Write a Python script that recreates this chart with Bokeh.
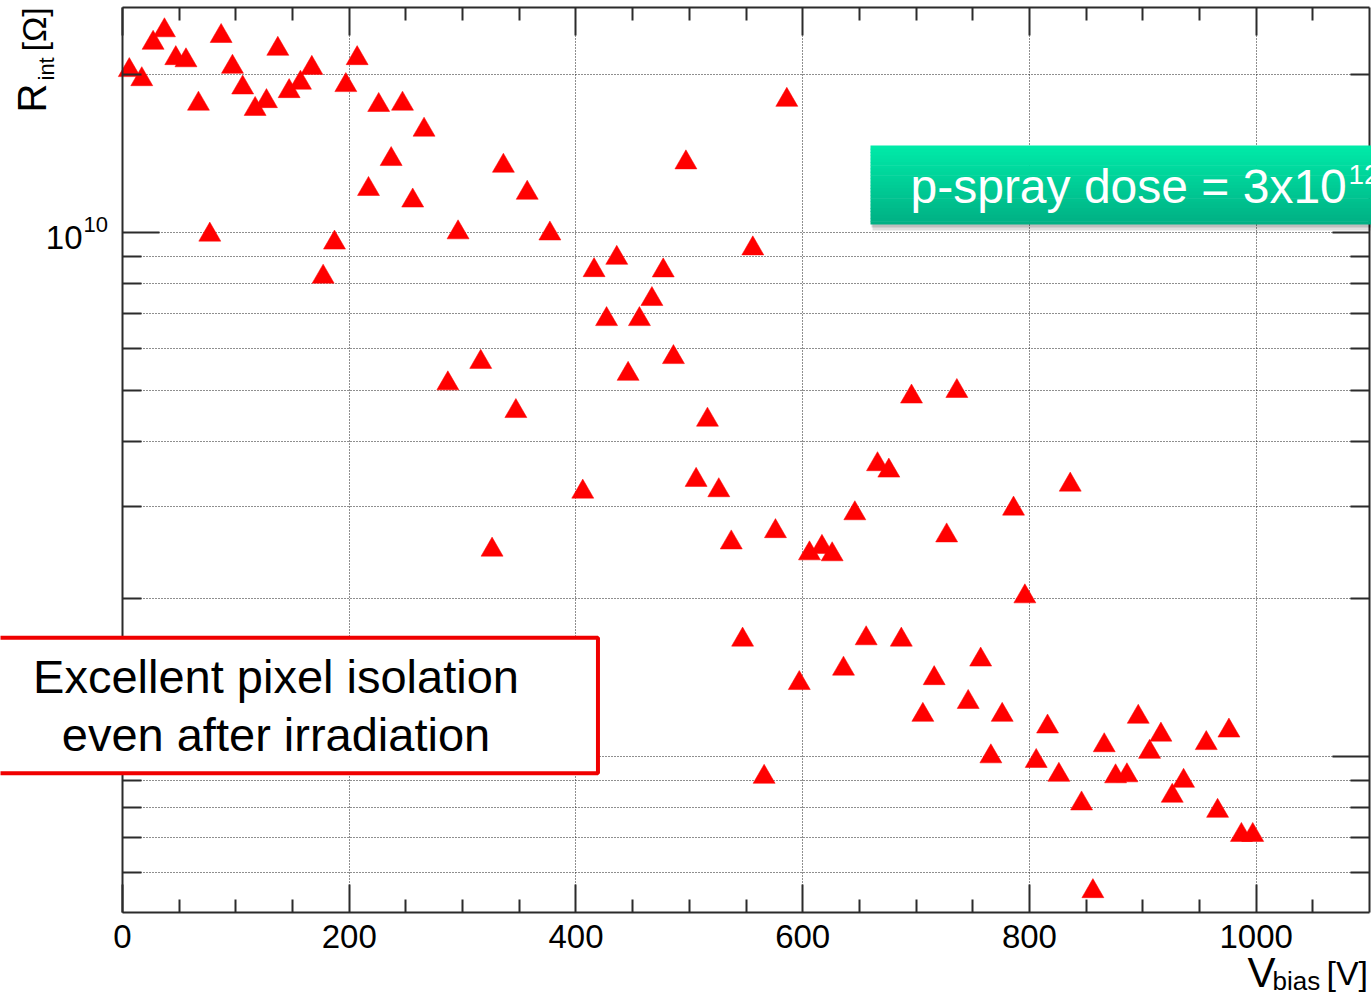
import math
from bokeh.plotting import figure
from bokeh.models import (ColumnDataSource, Range1d, FixedTicker, LinearAxis, LogAxis,
                          BasicTickFormatter, Label, BoxAnnotation, Grid)
from bokeh.embed import file_html
from bokeh.resources import INLINE

FONT = "Liberation Sans"

# ---------------- data ----------------
v_bias = [6, 17, 27, 37, 47, 56, 67, 77, 87, 97,
          106, 117, 127, 137, 147, 157, 167, 177, 187, 197,
          207, 217, 226, 237, 247, 256, 266, 287, 296, 316,
          326, 336, 347, 357, 377, 406, 416, 427, 436, 446,
          456, 467, 477, 486, 497, 506, 516, 526, 537, 547,
          556, 566, 576, 586, 597, 606, 617, 626, 636, 646,
          656, 666, 676, 687, 696, 706, 716, 727, 736, 746,
          757, 766, 776, 786, 796, 806, 816, 826, 836, 846,
          856, 866, 876, 886, 896, 906, 916, 926, 936, 956,
          966, 976, 987, 997]
# R_int in units of 1e9 Ohm
r_int_gohm = [20.4, 19.6, 23.0, 24.3, 21.5, 21.3, 17.6, 9.90, 23.7, 20.7,
              18.9, 17.2, 17.8, 22.4, 18.6, 19.3, 20.6, 8.23, 9.56, 19.1,
              21.5, 12.1, 17.5, 13.8, 17.6, 11.5, 15.7, 5.15, 10.0, 5.66,
              2.48, 13.4, 4.56, 11.9, 9.95, 3.20, 8.47, 6.83, 8.94, 5.37,
              6.83, 7.46, 8.46, 5.78, 13.6, 3.37, 4.39, 3.22, 2.56, 1.67,
              9.32, 0.914, 2.69, 17.9, 1.38, 2.44, 2.51, 2.43, 1.47, 2.91,
              1.68, 3.61, 3.51, 1.67, 4.86, 1.20, 1.41, 2.64, 4.98, 1.27,
              1.53, 1.00, 1.20, 2.97, 2.02, 0.980, 1.14, 0.922, 3.30, 0.813,
              0.553, 1.05, 0.916, 0.920, 1.19, 1.02, 1.10, 0.841, 0.898, 1.06,
              0.787, 1.12, 0.708, 0.708]

x_major_ticks = [0, 200, 400, 600, 800, 1000]
x_minor_ticks = [50, 100, 150, 250, 300, 350, 450, 500, 550, 650, 700, 750,
                 850, 900, 950, 1050]
y_major_ticks = [1e9, 1e10]
y_minor_ticks = [6e8, 7e8, 8e8, 9e8, 2e9, 3e9, 4e9, 5e9, 6e9, 7e9, 8e9, 9e9, 2e10]

x_title = ("V", "bias", "[V]")
y_title = ("R", "int", "[\u03a9]")
dose_text = ("p-spray dose = 3x10", "12")
note_text = "Excellent pixel isolation\neven after irradiation"

# ---------------- layout ----------------
W, H = 1371, 996
FRAME_L, FRAME_T, FRAME_R, FRAME_B = 122, 7, 1369, 912   # ROOT frame in canvas pixels
X_START, X_END = 0, 1100
LOG_Y_MIN, LOG_Y_MAX = 8.7023, 10.4294
Y_MIN, Y_MAX = 10 ** LOG_Y_MIN, 10 ** LOG_Y_MAX

# the Bokeh frame fills the whole canvas; the ROOT frame is drawn with fixed-location axes
SX = (X_END - X_START) / (FRAME_R - FRAME_L)
X_LO = X_START - FRAME_L * SX
X_HI = X_END + (W - FRAME_R) * SX
SY = (LOG_Y_MAX - LOG_Y_MIN) / (FRAME_B - FRAME_T)
LY_HI = LOG_Y_MAX + FRAME_T * SY
LY_LO = LOG_Y_MIN - (H - FRAME_B) * SY


def xd(px):
    return X_LO + px * SX


def yd(py):
    return 10 ** (LY_HI - py * SY)


p = figure(width=W, height=H, title=None,
           x_range=Range1d(X_LO, X_HI), y_range=Range1d(10 ** LY_LO, 10 ** LY_HI),
           y_axis_type="log", x_axis_location=None, y_axis_location=None,
           output_backend="svg", toolbar_location=None, min_border=0)
p.background_fill_color = "white"
p.border_fill_color = "white"
p.outline_line_color = None

AX = "#2b2b2b"


def style_axis(ax, major_in, minor_in, labels):
    ax.axis_line_color = AX
    ax.axis_line_width = 2
    ax.major_tick_line_color = AX
    ax.minor_tick_line_color = AX
    ax.major_tick_line_width = 2
    ax.minor_tick_line_width = 2
    ax.major_tick_in = major_in
    ax.major_tick_out = 0
    ax.minor_tick_in = minor_in
    ax.minor_tick_out = 0
    if labels:
        ax.major_label_text_font = FONT
        ax.major_label_text_font_size = "33px"
        ax.major_label_text_color = "black"
        ax.major_label_standoff = 12
    else:
        ax.major_label_text_color = None


GRID = "#1e1e1e"
xg = p.xgrid[0]
xg.ticker = FixedTicker(ticks=x_major_ticks, minor_ticks=x_minor_ticks)
xg.grid_line_color = GRID
xg.grid_line_dash = "1 2"
xg.grid_line_width = 1
yg = p.ygrid[0]
yg.ticker = FixedTicker(ticks=y_major_ticks, minor_ticks=y_minor_ticks)
yg.grid_line_color = GRID
yg.grid_line_dash = "1 2"
yg.grid_line_width = 1
yg.minor_grid_line_color = GRID
yg.minor_grid_line_dash = "1 2"
yg.minor_grid_line_width = 1
if "cross_bounds" in Grid.properties():
    xg.cross_bounds = (Y_MIN, Y_MAX)
    yg.cross_bounds = (X_START, X_END)

# white masks so that the grid stays inside the ROOT frame
for kw in (dict(left=X_LO - 500, right=X_START, bottom=10 ** (LY_LO - 1), top=10 ** (LY_HI + 1)),
           dict(left=X_END, right=X_HI + 500, bottom=10 ** (LY_LO - 1), top=10 ** (LY_HI + 1)),
           dict(left=X_LO - 500, right=X_HI + 500, bottom=10 ** (LY_LO - 1), top=Y_MIN),
           dict(left=X_LO - 500, right=X_HI + 500, bottom=Y_MAX, top=10 ** (LY_HI + 1))):
    p.add_layout(BoxAnnotation(fill_color="white", fill_alpha=1.0, line_color=None,
                               level="underlay", **kw))

bottom = LinearAxis(ticker=FixedTicker(ticks=x_major_ticks, minor_ticks=x_minor_ticks),
                    fixed_location=Y_MIN, bounds=(X_START, X_END))
style_axis(bottom, 28, 13, True)
p.add_layout(bottom, "below")

top = LinearAxis(ticker=FixedTicker(ticks=x_major_ticks, minor_ticks=x_minor_ticks),
                 fixed_location=Y_MAX, bounds=(X_START, X_END))
style_axis(top, 28, 13, False)
p.add_layout(top, "above")

left = LogAxis(ticker=FixedTicker(ticks=y_major_ticks, minor_ticks=y_minor_ticks),
               formatter=BasicTickFormatter(), fixed_location=X_START, bounds=(Y_MIN, Y_MAX))
style_axis(left, 37, 19, False)
p.add_layout(left, "left")

right = LogAxis(ticker=FixedTicker(ticks=y_major_ticks, minor_ticks=y_minor_ticks),
                formatter=BasicTickFormatter(), fixed_location=X_END, bounds=(Y_MIN, Y_MAX))
style_axis(right, 37, 19, False)
p.add_layout(right, "right")

src = ColumnDataSource(dict(v=v_bias, r=[g * 1e9 for g in r_int_gohm]))
p.scatter(x="v", y="r", source=src, marker="triangle", size=22,
          fill_color="#ff0000", line_color="#ff0000", line_width=0.5)


def txt(x, y, text, size, color="black", align="left", angle=0.0, **kw):
    p.add_layout(Label(x=x, y=y, text=text, text_align=align, text_baseline="middle",
                       angle=angle, text_font=FONT, text_font_size=size,
                       text_color=color, **kw))


# y tick labels 10^n
for t in y_major_ticks:
    e = int(round(math.log10(t)))
    txt(X_START, t, "10", "33px", align="right", x_offset=-40, y_offset=-5)
    txt(X_START, t, str(e), "22px", x_offset=-39, y_offset=8)

# axis titles
txt(xd(1247), yd(972), x_title[0], "42px")
txt(xd(1272), yd(980), x_title[1], "26px")
txt(xd(1326), yd(972), x_title[2], "34px")

txt(xd(31), yd(112), y_title[0], "40px", angle=math.pi / 2)
txt(xd(46), yd(80), y_title[1], "22px", angle=math.pi / 2)
txt(xd(33), yd(51), y_title[2], "34px", angle=math.pi / 2)

# green p-spray box (vertical gradient + soft shadow)
GB_L, GB_R, GB_T, GB_B = 870, 1400, 145, 224
p.add_layout(BoxAnnotation(left=xd(GB_L + 2), right=xd(GB_R), top=yd(GB_B - 2), bottom=yd(GB_B + 6),
                           fill_color="#000000", fill_alpha=0.12, line_color=None))
p.add_layout(BoxAnnotation(left=xd(GB_L + 1), right=xd(GB_R), top=yd(GB_B - 2), bottom=yd(GB_B + 3),
                           fill_color="#000000", fill_alpha=0.15, line_color=None))
N = 24
c_top = (0, 234, 168)
c_bot = (0, 176, 132)
for i in range(N):
    f = i / (N - 1)
    col = "#%02x%02x%02x" % tuple(int(round(a + (b - a) * f)) for a, b in zip(c_top, c_bot))
    t0 = GB_T + (GB_B - GB_T) * i / N
    t1 = min(GB_T + (GB_B - GB_T) * (i + 1) / N + 0.6, GB_B)
    p.add_layout(BoxAnnotation(left=xd(GB_L), right=xd(GB_R), top=yd(t0), bottom=yd(t1),
                               fill_color=col, fill_alpha=1.0, line_color=None))
txt(xd(910), yd(186), dose_text[0], "48px", color="white")
txt(xd(1348), yd(173.5), dose_text[1], "28px", color="white")

# red-framed note
p.add_layout(Label(x=xd(275.5), y=yd(705), text=note_text, text_align="center",
                   text_baseline="middle", text_font=FONT, text_font_size="47px",
                   text_line_height=1.1, text_color="black",
                   background_fill_color="white", background_fill_alpha=1.0,
                   border_line_color="#f00000", border_line_width=4,
                   padding=dict(left=79, right=79, top=12, bottom=12)))

open("out.html", "w").write(file_html(p, INLINE))
